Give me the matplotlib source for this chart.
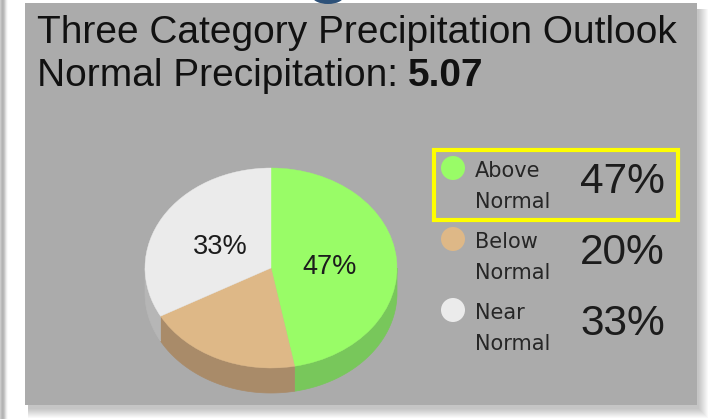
import numpy as np
import matplotlib
matplotlib.use("Agg")
import matplotlib.pyplot as plt
from matplotlib.patches import Wedge, Polygon, Rectangle, Ellipse
from matplotlib.transforms import Affine2D

# chart data
categories = ["Above Normal", "Below Normal", "Near Normal"]
legend_lines = [["Above", "Normal"], ["Below", "Normal"], ["Near", "Normal"]]
probabilities = [47, 20, 33]
show_on_pie = [True, False, True]
title_line = "Three Category Precipitation Outlook"
normal_label = "Normal Precipitation:"
normal_value = "5.07"
highlighted = 0

top_colors = ["#99fc67", "#deb887", "#ebebeb"]
side_colors = ["#78c75b", "#a98b69", "#b6b6b6"]

W, H = 711, 419
fig = plt.figure(figsize=(W / 100, H / 100), dpi=100)
fig.patch.set_facecolor("white")
ax = fig.add_axes([0, 0, 1, 1])
ax.set_xlim(0, W)
ax.set_ylim(H, 0)
ax.axis("off")

# faint strip of a neighbouring element on the far left
strip = np.array([[0.80, 0.74, 0.70, 0.72, 0.78, 0.86, 0.93, 0.98, 1.0]])
ax.imshow(strip, cmap="gray", vmin=0, vmax=1, extent=[0, 9, 419, 0],
          aspect="auto", interpolation="bilinear", zorder=0)

# panel shadow + panel
px, py, pw, ph = 25, 3, 672, 402
for k in range(10, 0, -1):
    ax.add_patch(Rectangle((px + 3, py + 6), pw + k - 2, ph + k - 3,
                           facecolor="black", alpha=0.025, lw=0, zorder=1))
ax.add_patch(Rectangle((px, py), pw, ph, facecolor="#ababab", lw=0, zorder=2))

# bit of a dark badge peeking in from the top
ax.add_patch(Ellipse((328, -4), 32, 16, facecolor="#2d5179", lw=0, zorder=3))

# title
title_font = dict(family="Liberation Sans", fontsize=28, color="#111111", zorder=5)
ax.text(37, 43, title_line, va="baseline", ha="left", **title_font)
t2 = ax.text(37, 86, normal_label, va="baseline", ha="left", **title_font)
fig.canvas.draw()
bb = t2.get_window_extent(fig.canvas.get_renderer())
x_end = ax.transData.inverted().transform((bb.x1, bb.y0))[0]
ax.text(x_end + 10, 86, normal_value, va="baseline", ha="left",
        fontweight="bold", **title_font)

# 3D-looking pie
cx, cy, rx, ry, depth = 271, 268, 126, 100, 25
total = sum(probabilities)
unit = Affine2D().scale(rx, -ry).translate(cx, cy) + ax.transData

start = 90.0
spans = []
for v in probabilities:
    end = start - 360.0 * v / total
    spans.append((end, start))
    start = end

# side walls (only the front half is visible)
for (t1, t2), c in zip(spans, side_colors):
    lo, hi = max(t1, -180.0), min(t2, 0.0)
    if hi <= lo:
        continue
    ts = np.radians(np.linspace(lo, hi, 80))
    xs = cx + rx * np.cos(ts)
    ys = cy - ry * np.sin(ts)
    pts = np.concatenate([np.column_stack([xs, ys]),
                          np.column_stack([xs[::-1], ys[::-1] + depth])])
    ax.add_patch(Polygon(pts, closed=True, facecolor=c, edgecolor=c, lw=0.5, zorder=6))

# top face
for (t1, t2), c in zip(spans, top_colors):
    ax.add_patch(Wedge((0, 0), 1, t1, t2, facecolor=c, edgecolor=c, lw=0.3,
                       transform=unit, zorder=7))

# labels on the pie
for (t1, t2), v, show in zip(spans, probabilities, show_on_pie):
    if not show:
        continue
    mid = np.radians((t1 + t2) / 2)
    lx = cx + 0.47 * rx * np.cos(mid)
    ly = cy - 0.47 * ry * np.sin(mid)
    ax.text(lx, ly, f"{v}%", ha="center", va="center_baseline",
            family="Liberation Sans", fontsize=19.5, color="#1c1c1c", zorder=8)

# legend
lx0, ly0, step = 453, 168, 71
for i, (lines, v, c) in enumerate(zip(legend_lines, probabilities, top_colors)):
    y = ly0 + i * step
    ax.add_patch(Ellipse((lx0, y), 24, 24, facecolor=c, lw=0, zorder=8))
    ax.text(475, y + 9, lines[0], va="baseline", ha="left", family="DejaVu Sans",
            fontsize=15, color="#262626", zorder=8)
    ax.text(475, y + 40, lines[1], va="baseline", ha="left", family="DejaVu Sans",
            fontsize=15, color="#262626", zorder=8)
    ax.text(580, y + 25, f"{v}%", va="baseline", ha="left", family="Liberation Sans",
            fontsize=30.5, color="#1c1c1c", zorder=8)

hy = ly0 + highlighted * step
ax.add_patch(Rectangle((434, hy - 18), 244, 70, facecolor="none",
                       edgecolor="#ffff00", lw=3, zorder=9))

fig.savefig("out.png", dpi=100, facecolor="white")
